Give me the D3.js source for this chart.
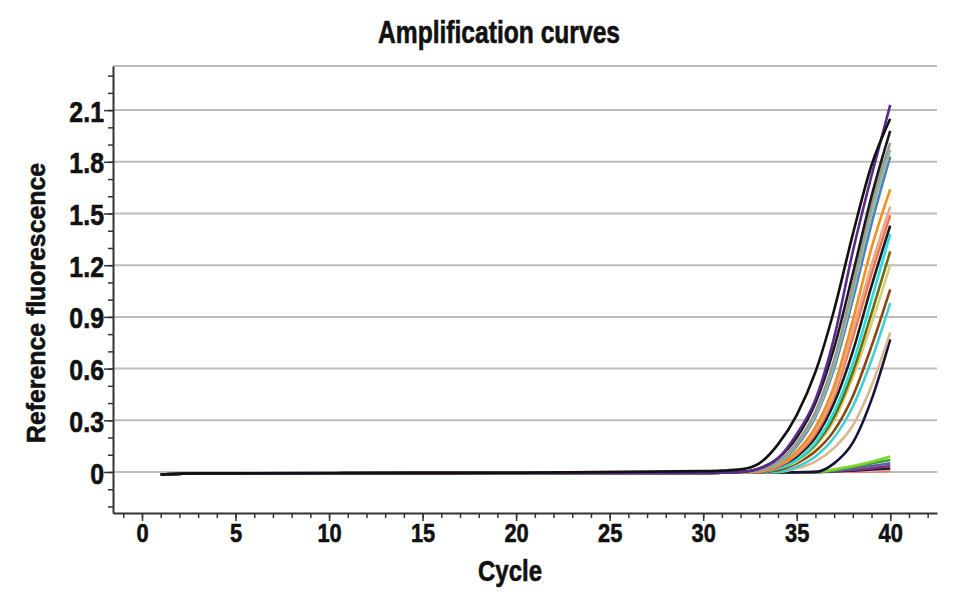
<!DOCTYPE html>
<html>
<head>
<meta charset="utf-8">
<script src="https://cdnjs.cloudflare.com/ajax/libs/d3/7.8.5/d3.min.js"></script>
<style>
  body { margin: 0; background: #fff; }
  text { font-family: "Liberation Sans", Arial, sans-serif; font-weight: bold; fill: #111; stroke: #111; stroke-width: 0.6px; }
</style>
</head>
<body>
<div id="main"></div>
<script>
// data
var cycles = [1, 3, 10, 20, 30, 31, 32, 33, 34, 35, 36, 37, 38, 39, 40];
var xTicks = [0, 5, 10, 15, 20, 25, 30, 35, 40];
var yTicks = [0, 0.3, 0.6, 0.9, 1.2, 1.5, 1.8, 2.1];
var curveColors = [
  "#e06030", "#f0a0c0", "#222222", "#803080", "#6060a0", "#40a040", "#7fd82a",
  "#14143c", "#d8b890", "#40d0d0", "#8b4513", "#d8d070", "#6b6b10", "#20e0e0",
  "#1a1a1a", "#f07050", "#e8a888", "#f09020", "#4a7fc0", "#8fbc9a", "#9a9a9a",
  "#1a1a1a", "#5b2a8c", "#111111"
];
var curveValues = [
  [-0.015, -0.009, -0.007, -0.006, -0.005, -0.004, -0.003, -0.003, -0.003, -0.002, 0.0, 0.001, 0.002, 0.004, 0.006],
  [-0.015, -0.009, -0.007, -0.006, -0.005, -0.004, -0.003, -0.003, -0.003, -0.002, 0.0, 0.002, 0.005, 0.008, 0.012],
  [-0.015, -0.009, -0.007, -0.006, -0.005, -0.004, -0.003, -0.003, -0.003, -0.002, 0.0, 0.003, 0.008, 0.014, 0.02],
  [-0.015, -0.009, -0.007, -0.006, -0.005, -0.004, -0.003, -0.003, -0.003, -0.002, 0.0, 0.005, 0.012, 0.022, 0.035],
  [-0.015, -0.009, -0.007, -0.006, -0.005, -0.004, -0.003, -0.003, -0.003, -0.002, 0.0, 0.008, 0.02, 0.035, 0.05],
  [-0.015, -0.009, -0.007, -0.006, -0.005, -0.004, -0.003, -0.003, -0.003, -0.002, 0.0, 0.01, 0.03, 0.05, 0.07],
  [-0.015, -0.009, -0.007, -0.006, -0.005, -0.004, -0.003, -0.003, -0.003, -0.002, 0.0, 0.015, 0.035, 0.06, 0.09],
  [-0.015, -0.009, -0.007, -0.006, -0.005, -0.004, -0.003, -0.003, -0.003, -0.002, 0.0, 0.05, 0.17, 0.42, 0.77],
  [-0.015, -0.009, -0.007, -0.006, -0.005, -0.004, -0.003, -0.003, 0.0, 0.02, 0.06, 0.14, 0.27, 0.5, 0.81],
  [-0.015, -0.009, -0.007, -0.006, -0.005, -0.004, -0.003, -0.003, 0.0, 0.03, 0.09, 0.2, 0.38, 0.65, 0.98],
  [-0.015, -0.009, -0.007, -0.006, -0.005, -0.004, -0.003, -0.002, 0.01, 0.05, 0.12, 0.24, 0.44, 0.73, 1.06],
  [-0.015, -0.009, -0.007, -0.006, -0.005, -0.004, -0.003, 0.0, 0.02, 0.06, 0.15, 0.3, 0.55, 0.86, 1.2],
  [-0.015, -0.009, -0.007, -0.006, -0.005, -0.004, -0.003, 0.0, 0.02, 0.07, 0.16, 0.32, 0.58, 0.92, 1.28],
  [-0.015, -0.009, -0.007, -0.006, -0.005, -0.004, -0.003, 0.0, 0.02, 0.07, 0.17, 0.35, 0.63, 1.0, 1.38],
  [-0.015, -0.009, -0.007, -0.006, -0.005, -0.004, -0.003, 0.0, 0.03, 0.09, 0.2, 0.4, 0.7, 1.08, 1.43],
  [-0.015, -0.009, -0.007, -0.006, -0.005, -0.004, -0.003, 0.0, 0.03, 0.1, 0.22, 0.44, 0.78, 1.15, 1.49],
  [-0.015, -0.009, -0.007, -0.006, -0.005, -0.004, -0.003, 0.005, 0.04, 0.11, 0.24, 0.46, 0.82, 1.2, 1.54],
  [-0.015, -0.009, -0.007, -0.006, -0.005, -0.004, -0.003, 0.005, 0.04, 0.12, 0.26, 0.5, 0.88, 1.3, 1.64],
  [-0.015, -0.009, -0.007, -0.006, -0.005, -0.004, -0.002, 0.01, 0.05, 0.15, 0.32, 0.6, 1.0, 1.44, 1.83],
  [-0.015, -0.009, -0.007, -0.006, -0.005, -0.004, -0.002, 0.01, 0.05, 0.16, 0.33, 0.62, 1.04, 1.5, 1.87],
  [-0.015, -0.009, -0.007, -0.006, -0.005, -0.004, -0.001, 0.01, 0.06, 0.17, 0.35, 0.65, 1.08, 1.55, 1.91],
  [-0.015, -0.009, -0.007, -0.006, -0.005, -0.003, 0.0, 0.02, 0.08, 0.2, 0.4, 0.72, 1.15, 1.6, 1.98],
  [-0.015, -0.009, -0.007, -0.006, -0.005, -0.003, 0.0, 0.02, 0.08, 0.22, 0.42, 0.78, 1.28, 1.72, 2.13],
  [-0.015, -0.008, -0.006, -0.004, 0.005, 0.008, 0.015, 0.05, 0.16, 0.33, 0.58, 0.94, 1.38, 1.78, 2.05]
];

var ctx = {
  w: 980,
  h: 609,
  left: 113, right: 937, top: 66, bottom: 513,
  squeezeY: 0.86,
  squeezeX: 0.84
};

var initSVGcanvas = function(){
  var g = d3.select("#rootG");
  ctx.xScale = d3.scaleLinear().domain([-1.55, 42.5]).range([ctx.left, ctx.right]);
  ctx.yScale = d3.scaleLinear().domain([-0.238, 2.356]).range([ctx.bottom, ctx.top]);

  // horizontal grid + top line
  g.append("g").selectAll("line")
    .data(yTicks.concat([ctx.yScale.domain()[1]]))
    .enter().append("line")
    .attr("x1", ctx.left).attr("x2", ctx.right)
    .attr("y1", function(d){ return ctx.yScale(d); })
    .attr("y2", function(d){ return ctx.yScale(d); })
    .attr("stroke", "#bdbdbd").attr("stroke-width", 2);

  // x axis: minor ticks every cycle, major every 5
  var xAxisG = g.append("g").attr("transform", "translate(0," + ctx.bottom + ")");
  xAxisG.append("g")
    .call(d3.axisBottom(ctx.xScale).tickValues(d3.range(-1, 43)).tickSize(5).tickFormat(""))
    .call(function(s){ s.select(".domain").remove(); });
  xAxisG.append("g")
    .call(d3.axisBottom(ctx.xScale).tickValues(xTicks).tickSize(8).tickSizeOuter(0).tickPadding(3))
    .selectAll("text")
      .style("font-size", "26px")
      .attr("dy", "0.71em")
      .attr("transform", "scale(" + ctx.squeezeX + ",1)");
  xAxisG.selectAll("line").attr("stroke", "#333").attr("stroke-width", 1.5);
  xAxisG.selectAll(".domain").attr("stroke", "#333").attr("stroke-width", 2);

  // y axis: minor ticks every 0.1
  var yAxisG = g.append("g").attr("transform", "translate(" + ctx.left + ",0)");
  yAxisG.append("g")
    .call(d3.axisLeft(ctx.yScale).tickValues(d3.range(-2, 24).map(function(i){ return i / 10; })).tickSize(5).tickFormat(""))
    .call(function(s){ s.select(".domain").remove(); });
  yAxisG.append("g")
    .call(d3.axisLeft(ctx.yScale).tickValues(yTicks).tickSize(9).tickSizeOuter(0)
      .tickFormat(function(d){ return d === 0 ? "0" : d3.format(".1f")(d); }))
    .selectAll("text")
      .style("font-size", "29px")
      .attr("x", -9 / ctx.squeezeY)
      .attr("dy", "0.38em")
      .attr("transform", "scale(" + ctx.squeezeY + ",1)");
  yAxisG.selectAll("line").attr("stroke", "#333").attr("stroke-width", 1.5);
  yAxisG.selectAll(".domain").attr("stroke", "#333").attr("stroke-width", 2);

  // title and axis labels
  g.append("text").attr("x", 499).attr("y", 43).attr("text-anchor", "middle")
    .style("font-size", "31px").attr("textLength", 242).attr("lengthAdjust", "spacingAndGlyphs")
    .text("Amplification curves");
  g.append("text").attr("x", 510).attr("y", 581).attr("text-anchor", "middle")
    .style("font-size", "29px").attr("textLength", 64).attr("lengthAdjust", "spacingAndGlyphs")
    .text("Cycle");
  g.append("text").attr("transform", "translate(45,303) rotate(-90)").attr("text-anchor", "middle")
    .style("font-size", "26px").attr("textLength", 280).attr("lengthAdjust", "spacingAndGlyphs")
    .text("Reference fluorescence");
};

var populateSVGcanvas = function(){
  var line = d3.line()
    .x(function(d){ return ctx.xScale(d[0]); })
    .y(function(d){ return ctx.yScale(d[1]); })
    .curve(d3.curveMonotoneX);
  d3.select("#rootG").append("g").selectAll("path")
    .data(curveValues)
    .enter().append("path")
    .attr("d", function(vals){ return line(vals.map(function(v, i){ return [cycles[i], v]; })); })
    .attr("fill", "none")
    .attr("stroke", function(d, i){ return curveColors[i]; })
    .attr("stroke-width", 2.6)
    .attr("stroke-linejoin", "round");
};

var createViz = function(){
  var svgEl = d3.select("#main").append("svg")
    .attr("width", ctx.w).attr("height", ctx.h);
  svgEl.append("g").attr("id", "rootG");
  initSVGcanvas();
  populateSVGcanvas();
};

createViz();
</script>
</body>
</html>
